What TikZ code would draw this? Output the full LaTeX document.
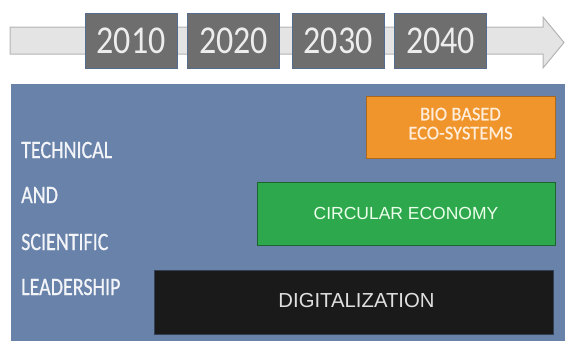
\documentclass[tikz,border=0pt]{standalone}
\usepackage{fontspec}
\setmainfont{Carlito}
\newfontfamily\arialf{Liberation Sans}
\newfontfamily\semicarl[FakeBold=0.7]{Carlito}
\usepackage{graphicx}
\definecolor{panelblue}{HTML}{6882AA}
\definecolor{arrowfill}{HTML}{E4E4E4}
\definecolor{arrowline}{HTML}{B4B4B4}
\definecolor{yearfill}{HTML}{6E6E6E}
\definecolor{yearline}{HTML}{566C8E}
\definecolor{bioorange}{HTML}{F0952B}
\definecolor{circgreen}{HTML}{2EA84C}
\definecolor{digiblack}{HTML}{1B1A1A}
\definecolor{labwhite}{HTML}{F2F4F8}
\begin{document}
\begin{tikzpicture}[x=1pt,y=-1pt,
  yearbox/.style={draw=yearline,line width=1pt,fill=yearfill,minimum width=92pt,minimum height=55pt,inner sep=0pt,text=white!93!black,font=\fontsize{34}{34}\selectfont},
  sidelabel/.style={anchor=west,inner sep=0pt,text=labwhite,font=\semicarl\fontsize{20}{20}\selectfont},
  bandbox/.style={inner sep=0pt,line width=1pt,font=\arialf\fontsize{17.5}{17.5}\selectfont}
]
\useasboundingbox (0,0) rectangle (565,341);
% timeline arrow
\draw[fill=arrowfill,draw=arrowline,line width=1pt]
  (10,27) -- (543,27) -- (543,17) -- (564,42.5) -- (543,68) -- (543,54) -- (10,54) -- cycle;
% year boxes
\node[yearbox] (y2010) at (131,40.5) {\raisebox{-1.5pt}{\scalebox{1}[1.16]{2010}}};
\node[yearbox] (y2020) at (233.5,40.5) {\raisebox{-1.5pt}{\scalebox{1}[1.16]{2020}}};
\node[yearbox] (y2030) at (338,40.5) {\raisebox{-1.5pt}{\scalebox{1}[1.16]{2030}}};
\node[yearbox] (y2040) at (440.5,40.5) {\raisebox{-1.5pt}{\scalebox{1}[1.16]{2040}}};
% panel
\fill[panelblue] (11,84) rectangle (565,341);
% side labels
\node[sidelabel] (technical) at (21,150) {\scalebox{1}[1.25]{TECHNICAL}};
\node[sidelabel] (and) at (21,195) {\scalebox{1}[1.25]{AND}};
\node[sidelabel] (scientific) at (21,242) {\scalebox{1}[1.25]{SCIENTIFIC}};
\node[sidelabel] (leadership) at (21,287) {\scalebox{1}[1.25]{LEADERSHIP}};
% bands
\node[bandbox,fill=bioorange,draw=bioorange!70!black,minimum width=189pt,minimum height=62pt,text=orange!15!white,
  font=\semicarl\fontsize{18.5}{22}\selectfont,align=center] (bio) at (460.5,127) {\raisebox{7pt}{\scalebox{1}[1.05]{BIO BASED}}\\[-3pt]\raisebox{7pt}{\scalebox{1}[1.05]{ECO-SYSTEMS}}};
\node[bandbox,fill=circgreen,draw=circgreen!60!black,minimum width=298pt,minimum height=63pt,text=green!8!white] (circ) at (406,213.5) {CIRCULAR ECONOMY};
\node[bandbox,fill=digiblack,draw=panelblue!50!black,minimum width=399pt,minimum height=64pt,text=white!88!black,font=\arialf\fontsize{20.3}{20.3}\selectfont] (digi) at (353.5,302) {\hspace{6pt}\raisebox{4pt}{DIGITALIZATION}};
\end{tikzpicture}
\end{document}
